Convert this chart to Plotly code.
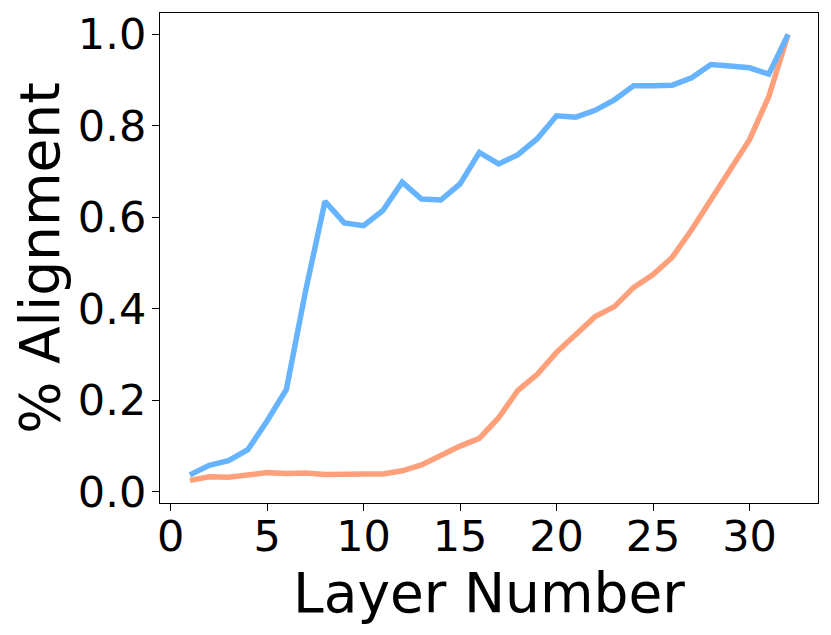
import plotly.graph_objects as go

layers = list(range(1, 33))

blue_vals = [0.037, 0.058, 0.068, 0.092, 0.155, 0.224, 0.44, 0.635, 0.588, 0.582,
             0.615, 0.677, 0.640, 0.638, 0.673, 0.742, 0.717, 0.737, 0.772, 0.822,
             0.819, 0.834, 0.857, 0.888, 0.888, 0.889, 0.905, 0.934, 0.931, 0.927,
             0.913, 1.0]

orange_vals = [0.025, 0.033, 0.032, 0.038, 0.042, 0.040, 0.041, 0.038, 0.037, 0.039,
               0.039, 0.046, 0.059, 0.080, 0.100, 0.117, 0.162, 0.222, 0.257, 0.305,
               0.343, 0.383, 0.405, 0.447, 0.475, 0.513, 0.573, 0.638, 0.708, 0.770,
               0.864, 1.0]

fig = go.Figure()
fig.add_trace(go.Scatter(x=layers, y=orange_vals, mode='lines',
                         line=dict(color='#ffa07a', width=5.5)))
fig.add_trace(go.Scatter(x=layers, y=blue_vals, mode='lines',
                         line=dict(color='#66b3ff', width=5.5)))

# page body has an 8px default margin, so the figure is a bit smaller
font = 'DejaVu Sans'
fig.update_layout(
    width=823, height=627,
    margin=dict(l=152, r=13, t=5, b=132),
    plot_bgcolor='white', paper_bgcolor='white',
    showlegend=False,
    font=dict(family=font, color='black'),
)
fig.update_xaxes(
    range=[-0.55, 33.55], tickvals=[0, 5, 10, 15, 20, 25, 30],
    showgrid=False, zeroline=False, automargin=False,
    showline=True, linecolor='black', linewidth=1.3, mirror=True,
    ticks='outside', ticklen=7, tickwidth=1.3, tickcolor='black',
    tickfont=dict(size=43), ticklabelstandoff=-12,
    title=dict(text='Layer Number', font=dict(size=55), standoff=0),
)
fig.update_yaxes(
    range=[-0.0244, 1.0468], tickvals=[0, 0.2, 0.4, 0.6, 0.8, 1.0],
    tickformat='.1f',
    showgrid=False, zeroline=False, automargin=False,
    showline=True, linecolor='black', linewidth=1.3, mirror=True,
    ticks='outside', ticklen=7, tickwidth=1.3, tickcolor='black',
    tickfont=dict(size=43), ticklabelstandoff=-3,
    title=dict(text='% Alignment', font=dict(size=55), standoff=0),
)

fig.write_html("out.html")
